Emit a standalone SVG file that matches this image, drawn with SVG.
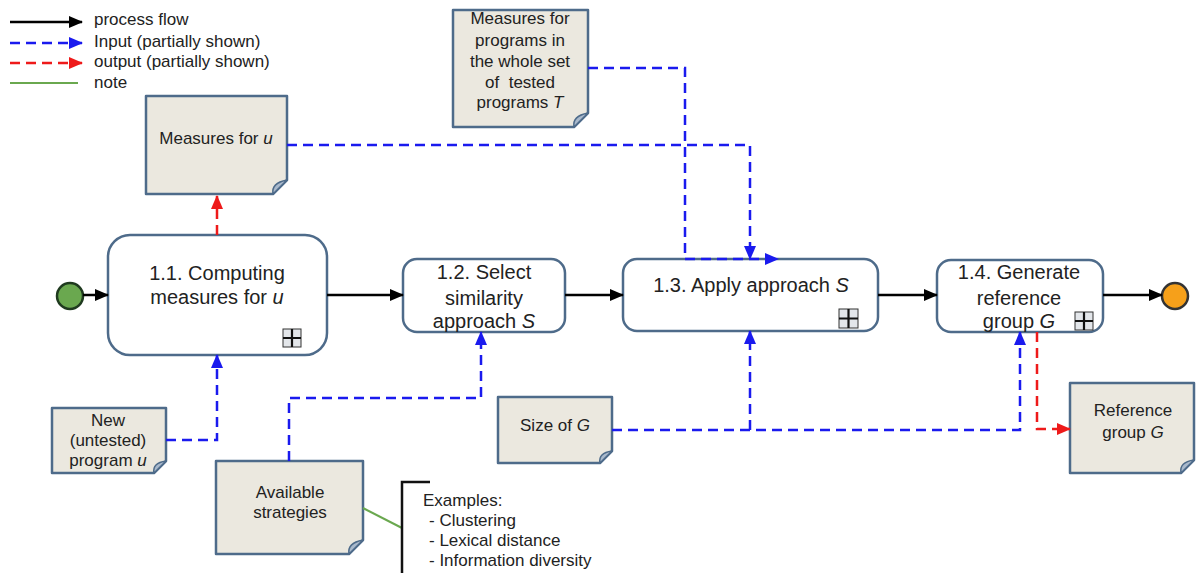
<svg xmlns="http://www.w3.org/2000/svg" width="1196" height="573" viewBox="0 0 1196 573">
<defs>
<style>
text{font-family:"Liberation Sans",Arial,sans-serif;fill:#222}
.t{font-size:20px;text-anchor:middle}
.n{font-size:17px;text-anchor:middle}
.l{font-size:17px}
.note{fill:#ebe8df;stroke:#4e6b8a;stroke-width:2.5;stroke-linejoin:round}
.fold{fill:#a9b9cc;stroke:#4e6b8a;stroke-width:1.5;stroke-linejoin:round}
.task{fill:#fff;stroke:#4e6b8a;stroke-width:2.5}
.plus{fill:#e3e6ea;stroke:#333;stroke-width:1}
.cross{stroke:#111;stroke-width:2.2}
.flow{fill:none;stroke:#000;stroke-width:2.5}
.in{fill:none;stroke:#1a1aee;stroke-width:2.5;stroke-dasharray:10 6}
.out{fill:none;stroke:#ee1a1a;stroke-width:2.5;stroke-dasharray:10 6}
.green{fill:none;stroke:#6aa84f;stroke-width:2}
</style>
<marker id="ab" markerUnits="userSpaceOnUse" markerWidth="14" markerHeight="12" refX="13" refY="6" orient="auto"><path d="M0,0 L14,6 L0,12 z" fill="#000"/></marker>
<marker id="au" markerUnits="userSpaceOnUse" markerWidth="14" markerHeight="12" refX="13" refY="6" orient="auto"><path d="M0,0 L14,6 L0,12 z" fill="#1a1aee"/></marker>
<marker id="ar" markerUnits="userSpaceOnUse" markerWidth="14" markerHeight="12" refX="13" refY="6" orient="auto"><path d="M0,0 L14,6 L0,12 z" fill="#ee1a1a"/></marker>
</defs>

<g id="legend">
<path class="flow" d="M10,22 H82" marker-end="url(#ab)"/>
<path class="in" d="M10,43 H82" marker-end="url(#au)"/>
<path class="out" d="M10,63 H82" marker-end="url(#ar)"/>
<path class="green" d="M10,83 H78"/>
<text class="l" x="94" y="25">process flow</text>
<text class="l" x="94" y="47">Input (partially shown)</text>
<text class="l" x="94" y="67">output (partially shown)</text>
<text class="l" x="94" y="88">note</text>
</g>

<g id="start"><circle cx="70" cy="296" r="13" fill="#6aa84f" stroke="#1f3a1f" stroke-width="2.5"/></g>
<g id="end"><circle cx="1175" cy="296" r="13" fill="#f6a01a" stroke="#333" stroke-width="2.5"/></g>

<g id="task11">
<rect class="task" x="108" y="235" width="219" height="120" rx="22"/>
<text class="t" x="217" y="280">1.1. Computing</text>
<text class="t" x="217" y="304">measures for <tspan font-style="italic">u</tspan></text>
<rect class="plus" x="283" y="329" width="18" height="18"/>
<path class="cross" d="M292,329 V347 M283,338 H301"/>
</g>

<g id="task12">
<rect class="task" x="403" y="259" width="162" height="73" rx="14"/>
<text class="t" x="484" y="279">1.2. Select</text>
<text class="t" x="484" y="305">similarity</text>
<text class="t" x="484" y="328">approach <tspan font-style="italic">S</tspan></text>
</g>

<g id="task13">
<rect class="task" x="623" y="259" width="255" height="72" rx="14"/>
<text class="t" x="751" y="292">1.3. Apply approach <tspan font-style="italic">S</tspan></text>
<rect class="plus" x="839" y="309" width="19" height="19"/>
<path class="cross" d="M848.5,309 V328 M839,318.5 H858"/>
</g>

<g id="task14">
<rect class="task" x="937" y="260" width="166" height="72" rx="14"/>
<text class="t" x="1019" y="279">1.4. Generate</text>
<text class="t" x="1019" y="305">reference</text>
<text class="t" x="1019" y="328">group <tspan font-style="italic">G</tspan></text>
<rect class="plus" x="1075" y="312" width="18" height="18"/>
<path class="cross" d="M1084,312 V330 M1075,321 H1093"/>
</g>

<g id="note-mu">
<path class="note" d="M146,96 H287 V180 L273,194 H146 Z"/>
<path class="fold" d="M287,180 L273,194 Q271,183 287,180 Z"/>
<text class="n" x="216" y="144">Measures for <tspan font-style="italic">u</tspan></text>
</g>

<g id="note-t">
<path class="note" d="M453,10 H588 V113 L574,127 H453 Z"/>
<path class="fold" d="M588,113 L574,127 Q572,116 588,113 Z"/>
<text class="n" x="520" y="24">Measures for</text>
<text class="n" x="520" y="46">programs in</text>
<text class="n" x="520" y="67">the whole set</text>
<text class="n" x="520" y="88" xml:space="preserve">of  tested</text>
<text class="n" x="520" y="108">programs <tspan font-style="italic">T</tspan></text>
</g>

<g id="note-newu">
<path class="note" d="M52,408 H166 V461 L154,473 H52 Z"/>
<path class="fold" d="M166,461 L154,473 Q152,463 166,461 Z"/>
<text class="n" x="108" y="426">New</text>
<text class="n" x="108" y="446">(untested)</text>
<text class="n" x="108" y="466">program <tspan font-style="italic">u</tspan></text>
</g>

<g id="note-avail">
<path class="note" d="M216,461 H363 V540 L349,554 H216 Z"/>
<path class="fold" d="M363,540 L349,554 Q347,543 363,540 Z"/>
<text class="n" x="290" y="498">Available</text>
<text class="n" x="290" y="518">strategies</text>
</g>

<g id="note-examples">
<text class="l" x="423" y="506">Examples:</text>
<text class="l" x="429" y="526">- Clustering</text>
<text class="l" x="429" y="546">- Lexical distance</text>
<text class="l" x="429" y="566">- Information diversity</text>
</g>

<g id="note-size">
<path class="note" d="M498,397 H612 V451 L600,463 H498 Z"/>
<path class="fold" d="M612,451 L600,463 Q598,453 612,451 Z"/>
<text class="n" x="555" y="431">Size of <tspan font-style="italic">G</tspan></text>
</g>

<g id="note-ref">
<path class="note" d="M1070,383 H1194 V460 L1181,473 H1070 Z"/>
<path class="fold" d="M1194,460 L1181,473 Q1179,462 1194,460 Z"/>
<text class="n" x="1133" y="416">Reference</text>
<text class="n" x="1133" y="438">group <tspan font-style="italic">G</tspan></text>
</g>

<g id="connectors">
<path class="flow" d="M83,295 H108" marker-end="url(#ab)"/>
<path class="flow" d="M327,295 H403" marker-end="url(#ab)"/>
<path class="flow" d="M565,295 H623" marker-end="url(#ab)"/>
<path class="flow" d="M878,295 H937" marker-end="url(#ab)"/>
<path class="flow" d="M1103,295 H1162" marker-end="url(#ab)"/>
<path class="out" d="M217,235 V196" marker-end="url(#ar)"/>
<path class="in" d="M287,145 H750 V259" marker-end="url(#au)"/>
<path class="in" d="M588,68 H685 V259 H778" marker-end="url(#au)"/>
<path class="in" d="M166,440 H217 V355" marker-end="url(#au)"/>
<path class="in" d="M289,461 V398 H481 V332" marker-end="url(#au)"/>
<path class="in" d="M612,430 H1020 V332" marker-end="url(#au)"/>
<path class="in" d="M750,430 V331" marker-end="url(#au)"/>
<path class="out" d="M1037,332 V429 H1070" marker-end="url(#ar)"/>
<path class="green" d="M363,508 L402,528"/>
<path fill="none" stroke="#111" stroke-width="2.5" d="M430,482 H402 V573"/>
</g>
</svg>
